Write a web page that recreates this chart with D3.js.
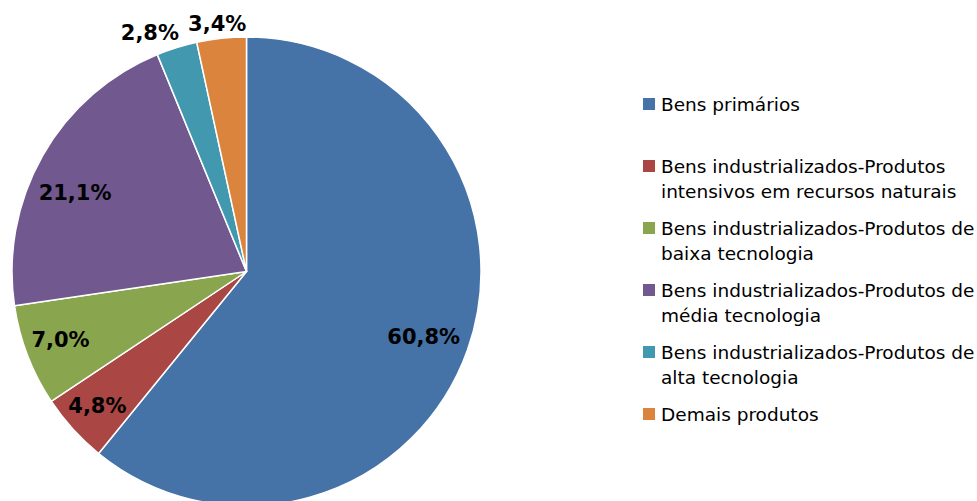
<!DOCTYPE html>
<html>
<head>
<meta charset="utf-8">
<script src="https://cdn.jsdelivr.net/npm/d3@7"></script>
<style>
  body { margin: 0; background: #fff; }
  svg { display: block; }
  text { font-family: Tahoma, "DejaVu Sans", sans-serif; }
</style>
</head>
<body>
<div id="chart"></div>
<script>
// Data
var categories = [
  "Bens primários",
  "Bens industrializados-Produtos\nintensivos em recursos naturais",
  "Bens industrializados-Produtos de\nbaixa tecnologia",
  "Bens industrializados-Produtos de\nmédia tecnologia",
  "Bens industrializados-Produtos de\nalta tecnologia",
  "Demais produtos"
];
var values = [60.8, 4.8, 7.0, 21.1, 2.8, 3.4];
var labels = ["60,8%", "4,8%", "7,0%", "21,1%", "2,8%", "3,4%"];

var colors = ["#4572A7", "#AA4643", "#89A54E", "#71588F", "#4198AF", "#DB843D"];

// label placement (radius as fraction of R, angle nudge in degrees)
var labelRadius = [0.805, 0.855, 0.845, 0.805, 1.10, 1.066];
var labelNudge = [0.6, 0.3, 0.8, -4.9, -4.7, -0.6];

var width = 977,
    height = 501;

var cx = 246.5, cy = 271.5, R = 234.5;

var svg = d3.select("#chart")
  .append("svg")
  .attr("width", width)
  .attr("height", height);

var pie = d3.pie()
  .sort(null)
  .value(function(d) { return d; });

var arc = d3.arc()
  .innerRadius(0)
  .outerRadius(R);

var arcs = pie(values);

var g = svg.append("g")
  .attr("transform", "translate(" + cx + "," + cy + ")");

g.selectAll("path")
  .data(arcs)
  .enter()
  .append("path")
  .attr("d", arc)
  .attr("fill", function(d, i) { return colors[i]; })
  .attr("stroke", "#fff")
  .attr("stroke-width", 1.5)
  .attr("stroke-linejoin", "round");

g.selectAll("text.lbl")
  .data(arcs)
  .enter()
  .append("text")
  .attr("class", "lbl")
  .attr("x", function(d, i) {
    var a = (d.startAngle + d.endAngle) / 2 + labelNudge[i] * Math.PI / 180;
    return Math.sin(a) * R * labelRadius[i];
  })
  .attr("y", function(d, i) {
    var a = (d.startAngle + d.endAngle) / 2 + labelNudge[i] * Math.PI / 180;
    return -Math.cos(a) * R * labelRadius[i];
  })
  .attr("dy", "0.36em")
  .attr("text-anchor", "middle")
  .style("font-size", "21px")
  .style("font-weight", "bold")
  .attr("fill", "#000")
  .text(function(d, i) { return labels[i]; });

// Legend
var legend = svg.append("g")
  .attr("transform", "translate(643,104)");

var item = legend.selectAll("g")
  .data(categories)
  .enter()
  .append("g")
  .attr("transform", function(d, i) { return "translate(0," + (i * 62) + ")"; });

item.append("rect")
  .attr("x", 0)
  .attr("y", -6)
  .attr("width", 12)
  .attr("height", 12)
  .attr("fill", function(d, i) { return colors[i]; });

item.append("text")
  .attr("x", 18)
  .attr("y", 0)
  .style("font-size", "18.5px")
  .attr("fill", "#000")
  .selectAll("tspan")
  .data(function(d) { return d.split("\n"); })
  .enter()
  .append("tspan")
  .attr("x", 18)
  .attr("y", function(d, i) { return i * 25.5; })
  .attr("dy", "0.36em")
  .text(function(d) { return d; });
</script>
</body>
</html>
